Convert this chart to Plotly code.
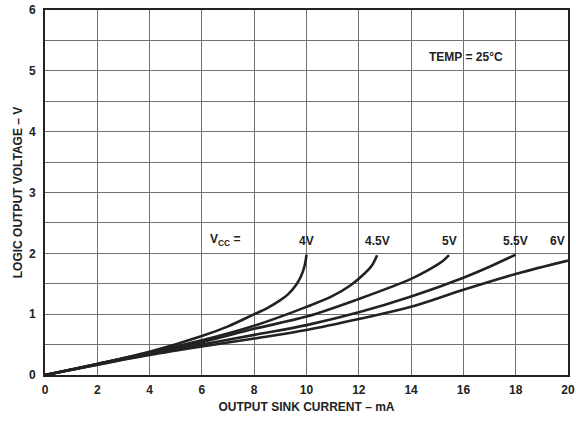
import plotly.graph_objects as go

# VCC curves: sink current (mA) vs logic output voltage (V)
x_4v = [0, 2, 4, 6, 7, 8, 8.5, 9, 9.3, 9.6, 9.8, 9.93, 10]
y_4v = [0, 0.18, 0.38, 0.64, 0.8, 1.0, 1.1, 1.23, 1.33, 1.48, 1.63, 1.8, 1.98]

x_45v = [0, 2, 4, 6, 8, 10, 11, 11.7, 12.2, 12.5, 12.7]
y_45v = [0, 0.18, 0.37, 0.57, 0.81, 1.12, 1.3, 1.48, 1.66, 1.8, 1.97]

x_5v = [0, 2, 4, 6, 8, 10, 12, 14, 14.8, 15.2, 15.45]
y_5v = [0, 0.18, 0.36, 0.54, 0.76, 0.96, 1.25, 1.58, 1.76, 1.87, 1.97]

x_55v = [0, 2, 4, 6, 8, 10, 12, 14, 16, 17, 18]
y_55v = [0, 0.17, 0.34, 0.5, 0.66, 0.82, 1.03, 1.29, 1.6, 1.78, 1.98]

x_6v = [0, 2, 4, 6, 8, 10, 12, 14, 16, 18, 20]
y_6v = [0, 0.17, 0.33, 0.47, 0.6, 0.74, 0.92, 1.12, 1.4, 1.66, 1.88]

vcc_labels = ['4V', '4.5V', '5V', '5.5V', '6V']
label_x = [10, 12.7, 15.45, 18, 19.6]

# half-volt gridlines carry no label
half_volt_labels = ['0.5', '1.5', '2.5', '3.5', '4.5', '5.5']

series = [(x_4v, y_4v), (x_45v, y_45v), (x_5v, y_5v), (x_55v, y_55v), (x_6v, y_6v)]

font_family = 'Liberation Sans, Arial, sans-serif'
ink = '#222222'
grid = '#707070'

fig = go.Figure()
for (xs, ys), name in zip(series, vcc_labels):
    fig.add_trace(go.Scatter(x=xs, y=ys, mode='lines', name=name,
                             line=dict(color=ink, width=2.6, shape='spline', smoothing=1.0),
                             showlegend=False, hoverinfo='skip'))

# curve labels just above the 2 V line
for lx, txt in zip(label_x, vcc_labels):
    fig.add_annotation(x=lx, y=2.2, text='<b>%s</b>' % txt, showarrow=False,
                       font=dict(size=12, color=ink, family=font_family))
fig.add_annotation(x=6.9, y=2.22, text='<b>V<sub>CC</sub> =</b>', showarrow=False,
                   font=dict(size=12, color=ink, family=font_family))
fig.add_annotation(x=16.1, y=5.23, text='<b>TEMP = 25°C</b>', showarrow=False,
                   font=dict(size=12, color=ink, family=font_family))

fig.update_layout(
    width=576, height=422,
    margin=dict(l=45, r=8, t=10, b=47),
    plot_bgcolor='white',
    paper_bgcolor='white',
    font=dict(family=font_family, size=12, color=ink),
    xaxis=dict(range=[0, 20], dtick=2, tick0=0, automargin=False,
               showgrid=True, gridcolor=grid, gridwidth=1,
               showline=True, linecolor=ink, linewidth=2, mirror=True,
               zeroline=False, ticks='', ticklabelstandoff=3,
               tickfont=dict(size=12, family=font_family, weight='bold'),
               title=dict(text='<b>OUTPUT SINK CURRENT – mA</b>', standoff=6,
                          font=dict(size=12, family=font_family))),
    yaxis=dict(range=[0, 6], tickmode='linear', tick0=0, dtick=0.5, automargin=False,
               labelalias={lbl: ' ' for lbl in half_volt_labels},
               showgrid=True, gridcolor=grid, gridwidth=1,
               showline=True, linecolor=ink, linewidth=2, mirror=True,
               zeroline=False, ticks='', ticklabelstandoff=5,
               tickfont=dict(size=12, family=font_family, weight='bold'),
               title=dict(text='<b>LOGIC OUTPUT VOLTAGE – V</b>', standoff=4,
                          font=dict(size=12, family=font_family))),
)

fig.write_html("out.html", config={'displayModeBar': False},
               post_script="document.body.style.margin='0';document.body.style.overflow='hidden';")
